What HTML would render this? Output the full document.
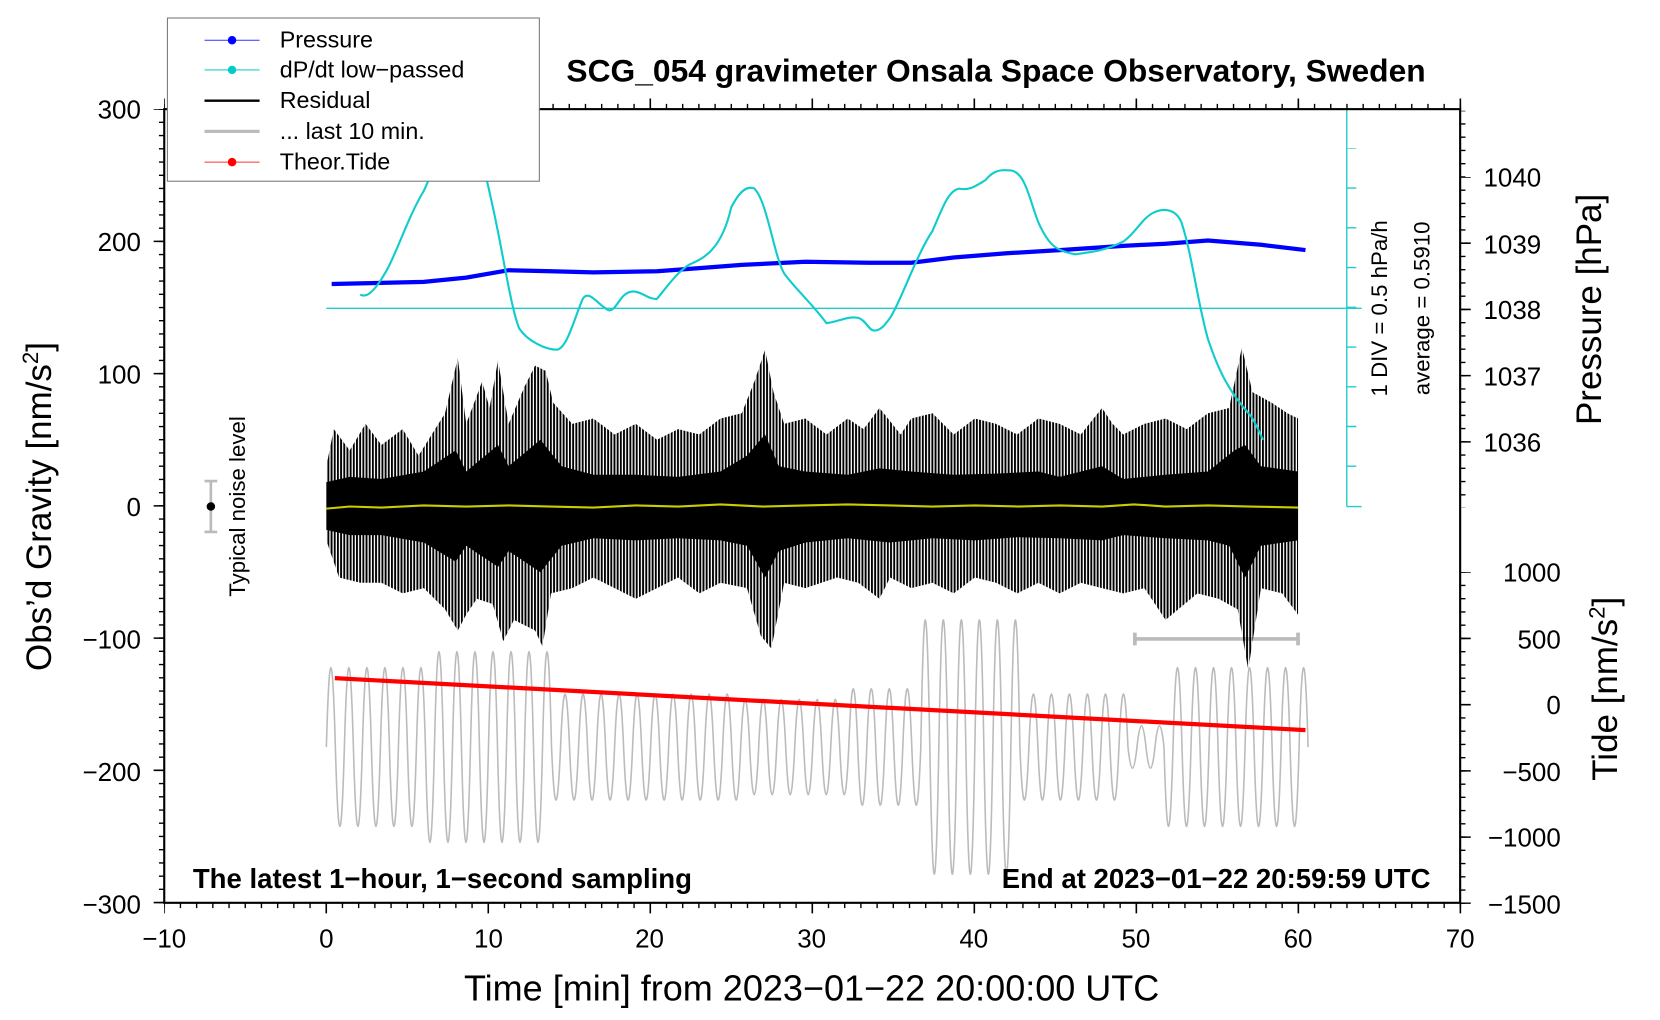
<!DOCTYPE html>
<html><head><meta charset="utf-8"><style>
html,body{margin:0;padding:0;background:#fff;width:1660px;height:1020px;overflow:hidden}
svg{display:block;font-family:"Liberation Sans",sans-serif}
</style></head><body>
<svg width="1660" height="1020" viewBox="0 0 1566.6 962.6" preserveAspectRatio="none" xmlns="http://www.w3.org/2000/svg">
<defs>
<pattern id="hatch" width="3" height="10" patternUnits="userSpaceOnUse"><rect width="1.8" height="10" fill="#000"/></pattern>
</defs>
<rect width="1566.6" height="962.6" fill="#fff"/>
<g stroke="#2cc" stroke-width="1.3" fill="none">
<path d="M1271 103V478M1271 478h14M1271 103h14M308 291H1285"/>
<line x1="1275.5" y1="140" x2="1275.5" y2="441" stroke-width="9" stroke-dasharray="1.3 36.2" stroke-dashoffset="0.65"/>
</g>
<path fill="none" stroke="#bbb" stroke-width="1.5" d="M308 745
q4.25 -150 8.5 0 t8.5 0 t8.5 0 t8.5 0 t8.5 0 t8.5 0 t8.5 0 t8.5 0 t8.5 0 t8.5 0 t8.5 0
q4.25 180 8.5 0 t8.5 0 t8.5 0 t8.5 0 t8.5 0 t8.5 0 t8.5 0 t8.5 0 t8.5 0 t8.5 0 t8.5 0 t8.5 0 t8.5 0 t8.5 0
q4.25 100 8.5 0 t8.5 0 t8.5 0 t8.5 0 t8.5 0 t8.5 0 t8.5 0 t8.5 0 t8.5 0 t8.5 0 t8.5 0 t8.5 0 t8.5 0 t8.5 0 t8.5 0 t8.5 0 t8.5 0 t8.5 0 t8.5 0 t8.5 0 t8.5 0
q4.25 -90 8.5 0 t8.5 0 t8.5 0 t8.5 0 t8.5 0 t8.5 0 t8.5 0 t8.5 0 t8.5 0 t8.5 0 t8.5 0 t8.5 0
q4.25 -110 8.5 0 t8.5 0 t8.5 0 t8.5 0 t8.5 0 t8.5 0 t8.5 0 t8.5 0
q4.25 -240 8.5 0 t8.5 0 t8.5 0 t8.5 0 t8.5 0 t8.5 0 t8.5 0 t8.5 0 t8.5 0 t8.5 0 t8.5 0
q4.25 100 8.5 0 t8.5 0 t8.5 0 t8.5 0 t8.5 0 t8.5 0 t8.5 0 t8.5 0 t8.5 0 t8.5 0 t8.5 0 t8.5 0
q4.25 40 8.5 0 t8.5 0 t8.5 0 t8.5 0
q4.25 150 8.5 0 t8.5 0 t8.5 0 t8.5 0 t8.5 0 t8.5 0 t8.5 0 t8.5 0 t8.5 0 t8.5 0 t8.5 0 t8.5 0 t8.5 0 t8.5 0 t8.5 0 t8.5 0" transform="translate(0,-40)"/>
<path d="M1071 603H1225M1071 597V609M1225 597V609" stroke="#bbb" stroke-width="3.5" fill="none"/>
<path fill="url(#hatch)" d="M308 440L315 405L330 425L345 400L360 420L380 405L395 430L420 390L432 338L440 400L455 360L462 385L470 340L480 400L495 365L505 345L515 350L522 380L540 400L560 395L580 410L600 400L620 415L640 405L660 410L680 395L700 390L712 360L722 330L730 370L740 400L760 395L780 410L800 395L815 405L830 385L850 410L860 395L880 390L900 410L920 395L940 400L960 410L980 395L1000 400L1020 410L1040 385L1050 400L1060 410L1080 400L1100 395L1120 405L1140 390L1160 385L1172 328L1182 370L1200 380L1215 390L1225 395
L1225 580L1210 560L1190 555L1178 632L1168 575L1150 565L1130 560L1100 585L1080 555L1060 560L1040 555L1020 550L1000 560L980 550L960 560L940 550L920 545L900 560L880 550L860 555L840 545L830 565L810 550L790 545L760 555L740 550L728 612L718 600L705 555L680 550L660 560L640 545L620 555L600 565L580 555L560 545L540 555L520 560L512 610L505 595L485 585L475 605L465 570L450 565L440 580L432 595L420 575L400 555L380 560L360 550L340 550L320 545L308 510Z"/>
<path fill="#000" d="M308 455L330 450L360 452L400 445L430 425L440 445L470 420L480 440L510 415L530 440L560 448L600 448L640 450L680 445L705 430L722 410L735 440L760 445L800 448L830 442L860 445L900 448L940 447L980 445L1000 450L1040 440L1060 452L1100 448L1140 445L1165 425L1175 420L1190 440L1225 445
L1225 510L1190 515L1175 545L1160 515L1140 510L1100 508L1060 505L1040 510L1000 508L960 507L920 510L880 508L840 512L800 508L760 512L735 520L722 545L705 515L680 510L640 508L600 510L560 508L530 515L510 540L480 520L470 535L440 515L430 530L400 512L360 505L330 505L308 500Z"/>
<path fill="none" stroke="#cc0" stroke-width="2" d="M308 480L330 478L360 479L400 477L440 478L480 477L520 478L560 479L600 477L640 478L680 476L720 478L760 477L800 476L840 477L880 478L920 477L960 478L1000 477L1040 478L1070 476L1100 478L1140 477L1180 478L1225 479"/>
<path d="M316 640L1232 689" stroke="#f00" stroke-width="4"/>
<path fill="none" stroke="#00f" stroke-width="4" d="M313 268L400 266L440 262L480 255L520 256L560 257L620 256L660 253L700 250L760 247L820 248L860 248L900 243L950 239L1000 236L1060 232L1100 230L1140 227L1190 231L1232 236"/>
<path fill="none" stroke="#1cc" stroke-width="2" d="M340 278C345 281 352 278 365 255C375 237 385 205 400 180C412 155 422 115 432 105C442 100 452 135 465 195C475 240 482 290 490 310C498 322 515 330 525 330C535 330 542 300 550 282C556 272 566 290 575 293C583 292 585 276 597 275C606 275 612 283 620 282C630 270 638 258 650 250C660 245 680 240 690 196C698 180 705 175 712 178C724 190 730 240 740 258C750 272 765 285 780 305C790 304 800 298 810 300C817 302 820 312 825 312C832 312 836 305 840 300C850 285 865 240 880 218C890 195 895 180 905 178C915 180 920 176 930 170C938 160 945 160 955 161C968 164 972 190 980 210C990 232 997 237 1015 240C1030 238 1045 236 1060 228C1072 220 1078 205 1090 200C1100 196 1110 198 1115 210C1125 240 1130 285 1140 320C1150 350 1160 370 1180 392C1186 400 1190 412 1192 415"/>
<rect x="155" y="103" width="1223" height="749" fill="none" stroke="#000" stroke-width="2"/>
<g stroke="#000" fill="none">
<line x1="152.5" y1="103" x2="152.5" y2="853" stroke-width="5" stroke-dasharray="1.3 11.18" stroke-dashoffset="0.65"/>
<line x1="150" y1="103" x2="150" y2="853" stroke-width="10" stroke-dasharray="1.5 123.3" stroke-dashoffset="0.75"/>
<line x1="155" y1="854.5" x2="1379" y2="854.5" stroke-width="5" stroke-dasharray="1.3 13.99" stroke-dashoffset="0.65"/>
<line x1="155" y1="857" x2="1379" y2="857" stroke-width="10" stroke-dasharray="1.5 151.4" stroke-dashoffset="0.75"/>
<line x1="155" y1="100.5" x2="1379" y2="100.5" stroke-width="5" stroke-dasharray="1.3 13.99" stroke-dashoffset="0.65"/>
<line x1="155" y1="98" x2="1379" y2="98" stroke-width="10" stroke-dasharray="1.5 151.4" stroke-dashoffset="0.75"/>
<line x1="1380.5" y1="104.5" x2="1380.5" y2="479" stroke-width="5" stroke-dasharray="1.3 11.2" stroke-dashoffset="0.65"/>
<line x1="1383" y1="167" x2="1383" y2="420" stroke-width="10" stroke-dasharray="1.5 61" stroke-dashoffset="0.75"/>
<line x1="1380.5" y1="540" x2="1380.5" y2="853" stroke-width="5" stroke-dasharray="1.3 11.2" stroke-dashoffset="0.65"/>
<line x1="1383" y1="540" x2="1383" y2="853" stroke-width="10" stroke-dasharray="1.5 61" stroke-dashoffset="0.75"/>
</g>
<g font-size="24.5" fill="#000">
<text x="133" y="112" text-anchor="end">300</text>
<text x="133" y="237" text-anchor="end">200</text>
<text x="133" y="362" text-anchor="end">100</text>
<text x="133" y="487" text-anchor="end">0</text>
<text x="133" y="612" text-anchor="end">−100</text>
<text x="133" y="737" text-anchor="end">−200</text>
<text x="133" y="862" text-anchor="end">−300</text>
<g text-anchor="middle">
<text x="155" y="894">−10</text><text x="308" y="894">0</text><text x="461" y="894">10</text><text x="613" y="894">20</text>
<text x="766" y="894">30</text><text x="919" y="894">40</text><text x="1072" y="894">50</text><text x="1225" y="894">60</text><text x="1378" y="894">70</text>
</g>
<text x="1400" y="176">1040</text><text x="1400" y="239">1039</text><text x="1400" y="301">1038</text>
<text x="1400" y="364">1037</text><text x="1400" y="426">1036</text>
<text x="1473" y="549" text-anchor="end">1000</text><text x="1473" y="612" text-anchor="end">500</text>
<text x="1473" y="674" text-anchor="end">0</text><text x="1473" y="737" text-anchor="end">−500</text>
<text x="1473" y="799" text-anchor="end">−1000</text><text x="1473" y="862" text-anchor="end">−1500</text>
</g>
<text x="766" y="944" font-size="34" text-anchor="middle">Time [min] from 2023−01−22 20:00:00 UTC</text>
<text transform="translate(48,478) rotate(-90)" font-size="33" text-anchor="middle">Obs’d Gravity [nm/s<tspan font-size="21" dy="-12">2</tspan><tspan dy="12">]</tspan></text>
<text transform="translate(1511,292) rotate(-90)" font-size="33" text-anchor="middle">Pressure [hPa]</text>
<text transform="translate(1526,650) rotate(-90)" font-size="33" text-anchor="middle">Tide [nm/s<tspan font-size="21" dy="-12">2</tspan><tspan dy="12">]</tspan></text>
<text x="940" y="77" font-size="30" font-weight="bold" text-anchor="middle">SCG_054 gravimeter Onsala Space Observatory, Sweden</text>
<text x="182" y="838" font-size="26" font-weight="bold">The latest 1−hour, 1−second sampling</text>
<text x="1350" y="838" font-size="26" font-weight="bold" text-anchor="end">End at 2023−01−22 20:59:59 UTC</text>
<text transform="translate(231,478) rotate(-90)" font-size="21" text-anchor="middle">Typical noise level</text>
<g fill="#000" font-size="21">
<text transform="translate(1309,291) rotate(-90)" text-anchor="middle">1 DIV = 0.5 hPa/h</text>
<text transform="translate(1349,291) rotate(-90)" text-anchor="middle">average = 0.5910</text>
</g>
<g stroke="#bbb" stroke-width="2.5"><line x1="199" y1="454" x2="199" y2="502"/><line x1="193" y1="454" x2="205" y2="454"/><line x1="193" y1="502" x2="205" y2="502"/></g>
<circle cx="199" cy="478" r="4" fill="#000"/>
<rect x="158" y="17" width="351" height="154" fill="#fff" stroke="#777" stroke-width="1"/>
<g font-size="22" fill="#000">
<line x1="193" y1="38" x2="245" y2="38" stroke="#33f" stroke-width="1"/><circle cx="219" cy="38" r="4" fill="#00f"/><text x="264" y="45">Pressure</text>
<line x1="193" y1="66" x2="245" y2="66" stroke="#2cc" stroke-width="1"/><circle cx="219" cy="66" r="4" fill="#0cc"/><text x="264" y="73">dP/dt low−passed</text>
<line x1="193" y1="95" x2="245" y2="95" stroke="#000" stroke-width="2.2"/><text x="264" y="102">Residual</text>
<line x1="193" y1="124" x2="245" y2="124" stroke="#bbb" stroke-width="3"/><text x="264" y="131">... last 10 min.</text>
<line x1="193" y1="153" x2="245" y2="153" stroke="#f33" stroke-width="1"/><circle cx="219" cy="153" r="4" fill="#f00"/><text x="264" y="160">Theor.Tide</text>
</g>
</svg>
</body></html>
